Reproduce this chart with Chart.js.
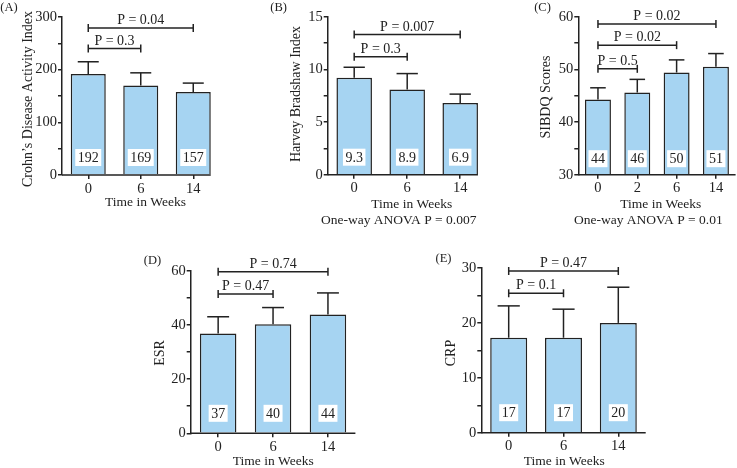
<!DOCTYPE html>
<html>
<head>
<meta charset="utf-8">
<title>Disease activity over time</title>
<script src="https://cdn.jsdelivr.net/npm/chart.js@4.4.1/dist/chart.umd.min.js"></script>
<style>
    html, body { margin: 0; padding: 0; background: #fff; }
    #wrap { position: relative; width: 737px; height: 468px; }
    #wrap canvas { position: absolute; left: 0; top: 0; }
</style>
</head>
<body>
<div id="wrap"></div>
<script>
// Time points (weeks)
const weeks = ['0', '6', '14'];
const weeksSibdq = ['0', '2', '6', '14'];

// (A) Crohn's Disease Activity Index
const cdaiMean = [192, 170, 157.5];
const cdaiErr = [23, 24, 17];
const cdaiLabels = ['192', '169', '157'];
const cdaiPText = ['P = 0.3', 'P = 0.04'];
const cdaiPTo = [1, 2];
const cdaiPY = [240, 279];

// (B) Harvey Bradshaw Index
const hbiMean = [9.2, 8.1, 6.8];
const hbiErr = [1.0, 1.5, 0.85];
const hbiLabels = ['9.3', '8.9', '6.9'];
const hbiPText = ['P = 0.3', 'P = 0.007'];
const hbiPTo = [1, 2];
const hbiPY = [11.2, 13.3];

// (C) SIBDQ scores
const sibdqMean = [44.3, 45.6, 49.4, 50.5];
const sibdqErr = [2.2, 2.5, 2.4, 2.5];
const sibdqLabels = ['44', '46', '50', '51'];
const sibdqPText = ['P = 0.5', 'P = 0.02', 'P = 0.02'];
const sibdqPTo = [1, 2, 3];
const sibdqPY = [50.1, 54.6, 58.6];

// (D) ESR
const esrMean = [36.8, 40.2, 43.8];
const esrErr = [6.2, 6.2, 8.0];
const esrLabels = ['37', '40', '44'];
const esrPText = ['P = 0.47', 'P = 0.74'];
const esrPTo = [1, 2];
const esrPY = [51.4, 59.6];

// (E) CRP
const crpMean = [17.3, 17.3, 20.0];
const crpErr = [5.8, 5.2, 6.5];
const crpLabels = ['17', '17', '20'];
const crpPText = ['P = 0.1', 'P = 0.47'];
const crpPTo = [1, 2];
const crpPY = [25.4, 29.45];

const W = 737, H = 468;
const YW = 40, XH = 24;
const INK = '#222';
const FILL = '#a6d4f2';
const FONT = '"Liberation Serif", "DejaVu Serif", serif';

Chart.defaults.font.family = FONT;
Chart.defaults.font.size = 14;
Chart.defaults.color = INK;

// layout of each panel: area = [left, top, right, bottom] of the plot box
const panels = [
    { tag: '(A)', tagPos: [9, 8], yTitle: 'Crohn\u2019s Disease Activity Index', yTitlePos: [28, 99],
      xTitle: [145.5, 206], anova: null,
      cats: weeks, mean: cdaiMean, err: cdaiErr, labels: cdaiLabels,
      pText: cdaiPText, pTo: cdaiPTo, pY: cdaiPY,
      yMin: 0, yMax: 300, step: 50, labelEvery: 100,
      area: [62, 17, 219.5, 175], barPct: 0.667, axisToBar: true, boxOff: 17.5 },
    { tag: '(B)', tagPos: [278.7, 8], yTitle: 'Harvey Bradshaw Index', yTitlePos: [296.7, 94],
      xTitle: [411.7, 208], anova: ['One-way ANOVA P = 0.007', 398.7, 224],
      cats: weeks, mean: hbiMean, err: hbiErr, labels: hbiLabels,
      pText: hbiPText, pTo: hbiPTo, pY: hbiPY,
      yMin: 0, yMax: 15, step: 2.5, labelEvery: 5,
      area: [327.7, 16.7, 486.7, 174.7], barPct: 0.67, axisToBar: true, boxOff: 17.5 },
    { tag: '(C)', tagPos: [542.5, 8], yTitle: 'SIBDQ Scores', yTitlePos: [546.7, 97],
      xTitle: [660.7, 208], anova: ['One-way ANOVA P = 0.01', 648.3, 224],
      cats: weeksSibdq, mean: sibdqMean, err: sibdqErr, labels: sibdqLabels,
      pText: sibdqPText, pTo: sibdqPTo, pY: sibdqPY,
      yMin: 30, yMax: 60, step: 5, labelEvery: 10,
      area: [578.3, 16.7, 735.6, 174.7], barPct: 0.66, axisToBar: false, boxOff: 16 },
    { tag: '(D)', tagPos: [152.5, 260.7], yTitle: 'ESR', yTitlePos: [160, 353],
      xTitle: [273.3, 465], anova: null,
      cats: weeks, mean: esrMean, err: esrErr, labels: esrLabels,
      pText: esrPText, pTo: esrPTo, pY: esrPY,
      yMin: 0, yMax: 60, step: 10, labelEvery: 20,
      area: [190.7, 270.7, 355.4, 433.3], barPct: 0.665, axisToBar: false, boxOff: 20 },
    { tag: '(E)', tagPos: [443.5, 259], yTitle: 'CRP', yTitlePos: [451.7, 353],
      xTitle: [564.3, 465], anova: null,
      cats: weeks, mean: crpMean, err: crpErr, labels: crpLabels,
      pText: crpPText, pTo: crpPTo, pY: crpPY,
      yMin: 0, yMax: 30, step: 5, labelEvery: 10,
      area: [481.3, 268, 645.7, 432.7], barPct: 0.675, axisToBar: false, boxOff: 20 }
];

function line(ctx, x0, y0, x1, y1) {
    ctx.beginPath();
    ctx.moveTo(x0, y0);
    ctx.lineTo(x1, y1);
    ctx.stroke();
}

// error bars, value boxes, P value brackets and free text
function extrasPlugin(p) {
    return {
        id: 'extras',
        afterDatasetsDraw(chart) {
            const ctx = chart.ctx;
            const area = chart.chartArea;
            const yScale = chart.scales.y;
            const bars = chart.getDatasetMeta(0).data;
            ctx.save();
            ctx.strokeStyle = INK;
            ctx.lineWidth = 1.5;

            // x axis line
            const last = bars[bars.length - 1];
            const xEnd = p.axisToBar ? last.x + last.width / 2 : area.right;
            line(ctx, area.left, area.bottom, xEnd, area.bottom);

            // error bars (upper only)
            bars.forEach((bar, i) => {
                const yTop = yScale.getPixelForValue(p.mean[i] + p.err[i]);
                const cap = bar.width * 0.3;
                line(ctx, bar.x, bar.y, bar.x, yTop);
                line(ctx, bar.x - cap, yTop, bar.x + cap, yTop);
            });

            // value boxes inside bars, measured from the x axis
            ctx.font = '14px ' + FONT;
            ctx.textAlign = 'center';
            ctx.textBaseline = 'middle';
            bars.forEach((bar, i) => {
                const cy = area.bottom - p.boxOff;
                const w = ctx.measureText(p.labels[i]).width + 5;
                ctx.fillStyle = '#fff';
                ctx.fillRect(bar.x - w / 2, cy - 8.5, w, 17);
                ctx.fillStyle = INK;
                ctx.fillText(p.labels[i], bar.x, cy + 1);
            });

            // brackets
            ctx.textBaseline = 'alphabetic';
            p.pText.forEach((txt, k) => {
                const x0 = bars[0].x;
                const x1 = bars[p.pTo[k]].x;
                const y = yScale.getPixelForValue(p.pY[k]);
                line(ctx, x0, y, x1, y);
                line(ctx, x0, y - 4, x0, y + 4);
                line(ctx, x1, y - 4, x1, y + 4);
                ctx.fillText(txt, (x0 + x1) / 2, y - 4);
            });
            ctx.restore();
        },
        afterDraw(chart) {
            const ctx = chart.ctx;
            ctx.save();
            ctx.fillStyle = INK;
            ctx.textAlign = 'center';

            ctx.font = '12.5px ' + FONT;
            ctx.textBaseline = 'middle';
            ctx.fillText(p.tag, p.tagPos[0], p.tagPos[1]);

            ctx.font = '13.5px ' + FONT;
            ctx.textBaseline = 'alphabetic';
            ctx.fillText('Time in Weeks', p.xTitle[0], p.xTitle[1]);
            if (p.anova) {
                ctx.fillText(p.anova[0], p.anova[1], p.anova[2]);
            }

            ctx.save();
            ctx.translate(p.yTitlePos[0], p.yTitlePos[1]);
            ctx.rotate(-Math.PI / 2);
            ctx.font = '14px ' + FONT;
            ctx.textBaseline = 'middle';
            ctx.fillText(p.yTitle, 0, 0);
            ctx.restore();

            ctx.restore();
        }
    };
}

const wrap = document.getElementById('wrap');

panels.forEach(function(p) {
    const canvas = document.createElement('canvas');
    canvas.width = W;
    canvas.height = H;
    wrap.appendChild(canvas);

    const [l, t, r, b] = p.area;

    new Chart(canvas, {
        type: 'bar',
        data: {
            labels: p.cats,
            datasets: [{
                data: p.mean,
                backgroundColor: FILL,
                borderColor: INK,
                borderWidth: 1.5,
                borderSkipped: 'start',
                categoryPercentage: 1,
                barPercentage: p.barPct
            }]
        },
        options: {
            responsive: false,
            animation: false,
            events: [],
            layout: {
                padding: { left: l - YW, top: t, right: W - r, bottom: H - b - XH }
            },
            plugins: {
                legend: { display: false },
                tooltip: { enabled: false }
            },
            scales: {
                x: {
                    grid: { drawOnChartArea: false, offset: false, tickLength: 4, color: INK, lineWidth: 1.5 },
                    border: { display: false },
                    ticks: { padding: 1, maxRotation: 0, font: { size: 14.5 } },
                    afterFit: function(scale) { scale.height = XH; }
                },
                y: {
                    min: p.yMin,
                    max: p.yMax,
                    grid: { drawOnChartArea: false, tickLength: 4, color: INK, lineWidth: 1.5 },
                    border: { display: true, color: INK, width: 1.5 },
                    ticks: {
                        stepSize: p.step,
                        autoSkip: false,
                        padding: 1,
                        font: { size: 14.5 },
                        callback: function(v) {
                            return v % p.labelEvery === 0 ? String(v) : '';
                        }
                    },
                    afterFit: function(scale) { scale.width = YW; }
                }
            }
        },
        plugins: [extrasPlugin(p)]
    });
});
</script>
</body>
</html>
